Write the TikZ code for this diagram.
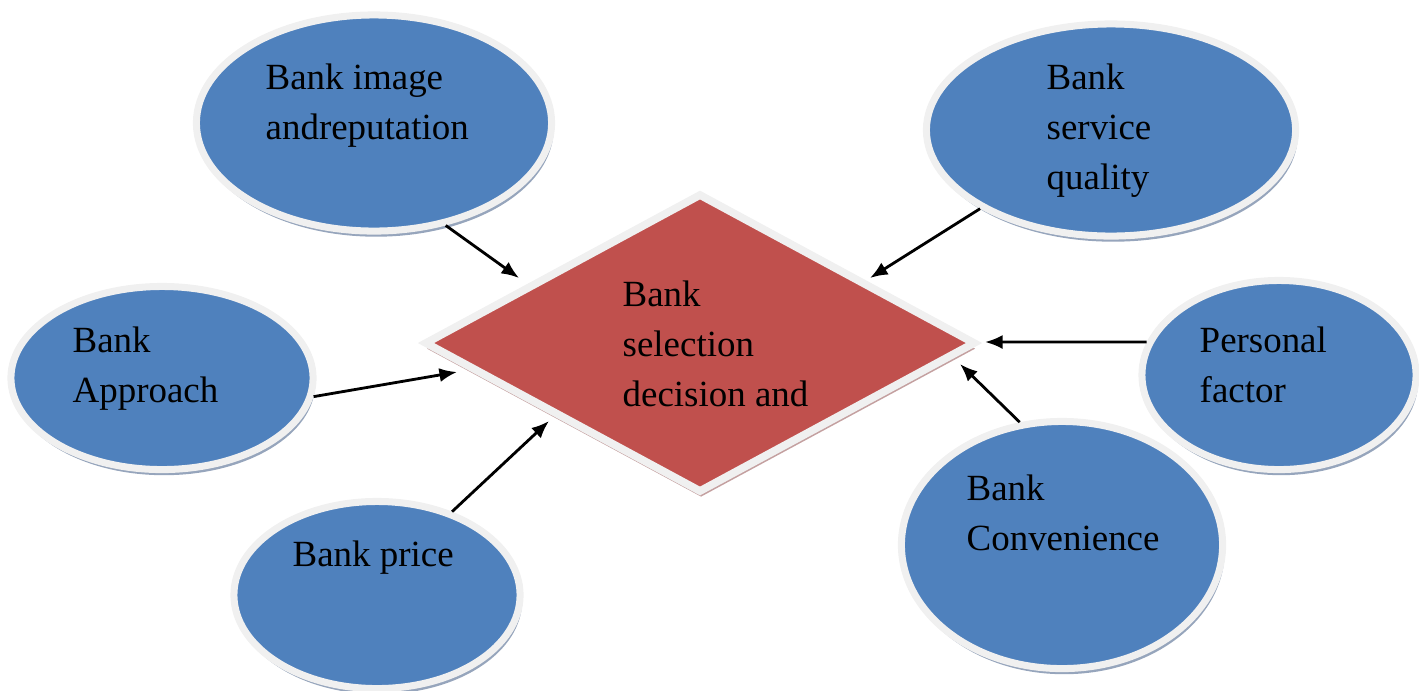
\documentclass[tikz,border=0pt]{standalone}
\usepackage{fontspec}
\setmainfont{Liberation Serif}
\usetikzlibrary{shapes.geometric,shadows,arrows.meta}
\definecolor{factorblue}{RGB}{79,129,189}
\definecolor{decisionred}{RGB}{192,80,77}
\definecolor{rimgray}{RGB}{240,240,240}
\definecolor{shadeblue}{RGB}{150,165,188}
\definecolor{shadered}{RGB}{196,160,160}

\begin{document}
\begin{tikzpicture}[x=0.01cm,y=-0.01cm]
    %
    % `factor' is used for the blue ellipses.
    % `decision' is used for the red diamond in the middle.
    % `lbl' is used for the texts (placed at the last baseline), `arr' for the arrows.
    \tikzstyle{factor} = [ellipse,fill=factorblue,draw=rimgray,line width=2pt,inner sep=0pt,drop shadow={shadow xshift=0.6pt,shadow yshift=-1.6pt,fill=shadeblue,opacity=1}]
    \tikzstyle{decision} = [diamond,fill=decisionred,draw=rimgray,line width=2.2pt,inner sep=0pt,minimum width=5.51cm,minimum height=2.99cm,drop shadow={shadow xshift=0.3pt,shadow yshift=-1.6pt,fill=shadered,opacity=1}]
    \tikzstyle{lbl} = [anchor=base west,align=left,inner sep=0pt,font=\fontsize{10.5}{14.1}\selectfont]
    \tikzstyle{arr} = [-{Latex[length=5pt,width=4pt]},line width=0.8pt]
    %
    \useasboundingbox (0,0) rectangle (1419,690);
    %
    % Centre
    \node[decision] (dec) at (700,343) {};
    \node[lbl] (dectxt) at (622,406) {Bank\\selection\\decision and};
    %
    % Factors, left side
    \node[factor,minimum width=3.55cm,minimum height=2.16cm] (img) at (374,123) {};
    \node[lbl] (imgtxt) at (265,139) {Bank image\\andreputation};
    \node[factor,minimum width=3.02cm,minimum height=1.83cm] (appr) at (162,378) {};
    \node[lbl] (apprtxt) at (72,402) {Bank\\Approach};
    \node[factor,minimum width=2.86cm,minimum height=1.87cm] (price) at (377,595) {};
    \node[lbl] (pricetxt) at (292,566) {Bank price};
    %
    % Factors, right side
    \node[factor,minimum width=3.69cm,minimum height=2.12cm] (serv) at (1111,130) {};
    \node[lbl] (servtxt) at (1046,189) {Bank\\service\\quality};
    \node[factor,minimum width=2.74cm,minimum height=1.89cm] (pers) at (1279,375) {};
    \node[lbl] (perstxt) at (1199,402) {Personal\\factor};
    \node[factor,minimum width=3.21cm,minimum height=2.47cm] (conv) at (1062,545) {};
    \node[lbl] (convtxt) at (966,550) {Bank\\Convenience};
    %
    % Arrow tips near the diamond
    \coordinate (t1) at (519,278);
    \coordinate (t2) at (870,278);
    \coordinate (t3) at (457,372);
    \coordinate (t4) at (985,342);
    \coordinate (t5) at (549,421);
    \coordinate (t6) at (960,364);
    %
    % Arrows
    \draw[arr] (img.305) -- (t1);
    \draw[arr] (serv.211) -- (t2);
    \draw[arr] (appr.353) -- (t3);
    \draw[arr] (pers.166) -- (t4);
    \draw[arr] (price.48) -- (t5);
    \draw[arr] (conv.109) -- (t6);
    %
\end{tikzpicture}
\end{document}
